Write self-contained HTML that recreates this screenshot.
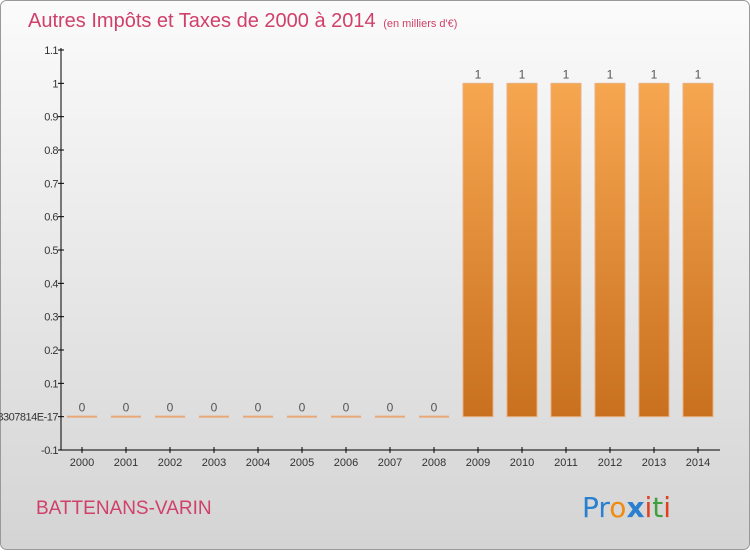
<!DOCTYPE html>
<html><head><meta charset="utf-8"><style>
html,body{margin:0;padding:0}
body{width:750px;height:550px;overflow:hidden;font-family:"Liberation Sans","DejaVu Sans",sans-serif}
</style></head><body>
<svg id="c" width="750" height="550" xmlns="http://www.w3.org/2000/svg">
<defs>
<linearGradient id="bg" x1="0" y1="0" x2="0" y2="1"><stop offset="0" stop-color="#fbfbfb"/><stop offset="1" stop-color="#d4d4d4"/></linearGradient>
<linearGradient id="bar" x1="0" y1="0" x2="0" y2="1"><stop offset="0" stop-color="#f7a650"/><stop offset="1" stop-color="#c8701e"/></linearGradient>
</defs>
<rect x="0.5" y="0.5" width="749" height="549" rx="6" fill="url(#bg)" stroke="#999"/>
<text x="28" y="27" font-size="20" fill="#d0406a">Autres Impôts et Taxes de 2000 à 2014 <tspan font-size="11" dx="2">(en milliers d'€)</tspan></text>
<text x="36" y="514" font-size="19" fill="#d0406a">BATTENANS-VARIN</text>
<g font-size="28" font-family="DejaVu Sans, sans-serif">
<text x="582" y="517"><tspan fill="#2a7fd0">Pr</tspan><tspan fill="#f08a10">o</tspan><tspan fill="#2a7fd0" font-weight="bold">x</tspan><tspan fill="#e04020">i</tspan><tspan fill="#40a040">t</tspan><tspan fill="#e04020">i</tspan></text>
</g>
<g id="plot"></g>
</svg>
<script>
const years=["2000","2001","2002","2003","2004","2005","2006","2007","2008","2009","2010","2011","2012","2013","2014"];
const values=[0,0,0,0,0,0,0,0,0,1,1,1,1,1,1];
const labels=["0","0","0","0","0","0","0","0","0","1","1","1","1","1","1"];
const yTicks=[-0.1,0,0.1,0.2,0.3,0.4,0.5,0.6,0.7,0.8,0.9,1,1.1];
const yTickLabels=["-0.1","1.38777878307814E-17","0.1","0.2","0.3","0.4","0.5","0.6","0.7","0.8","0.9","1","1.1"];
const ns="http://www.w3.org/2000/svg";
const g=document.getElementById('plot');
const X0=61,Y=v=>450-(v+0.1)/1.2*400;
const xc=i=>82+i*44;
function el(t,a,p){const e=document.createElementNS(ns,t);for(const k in a)e.setAttribute(k,a[k]);(p||g).appendChild(e);return e;}
let ax=el('line',{x1:X0,y1:48,x2:X0,y2:450,stroke:'#000'});


let bx=el('line',{x1:X0,y1:450,x2:720,y2:450,stroke:'#000'});


yTicks.forEach((v,i)=>{
 el('line',{x1:X0-3,y1:Y(v),x2:X0+3,y2:Y(v),stroke:'#000'});
 const t=el('text',{x:X0-3,y:Y(v)+4,'font-size':11,'text-anchor':'end',fill:'#333','letter-spacing':'-0.5'});
 t.textContent=yTickLabels[i];
 
 
});
years.forEach((y,i)=>{
 const x=xc(i);
 el('line',{x1:x,y1:447,x2:x,y2:453,stroke:'#000'});
 const t=el('text',{x:x,y:466,'font-size':11,'text-anchor':'middle',fill:'#333'});
 t.textContent=y;
 
 
 const v=values[i];
 const top=Y(Math.max(v,0)),bot=Y(Math.min(v,0));
 const h=Math.max(bot-top,2);
 const r=el('rect',{x:x-15,y:v>0?top:top-1,width:30,height:h,fill:v>0?'url(#bar)':'#e8a878',stroke:v>0?'#e8b080':'none','stroke-width':1});
 
 
 const l=el('text',{x:x,y:top-5,'font-size':12,'text-anchor':'middle',fill:'#555'});
 l.textContent=labels[i];
 
 
});
</script>
</body></html>
